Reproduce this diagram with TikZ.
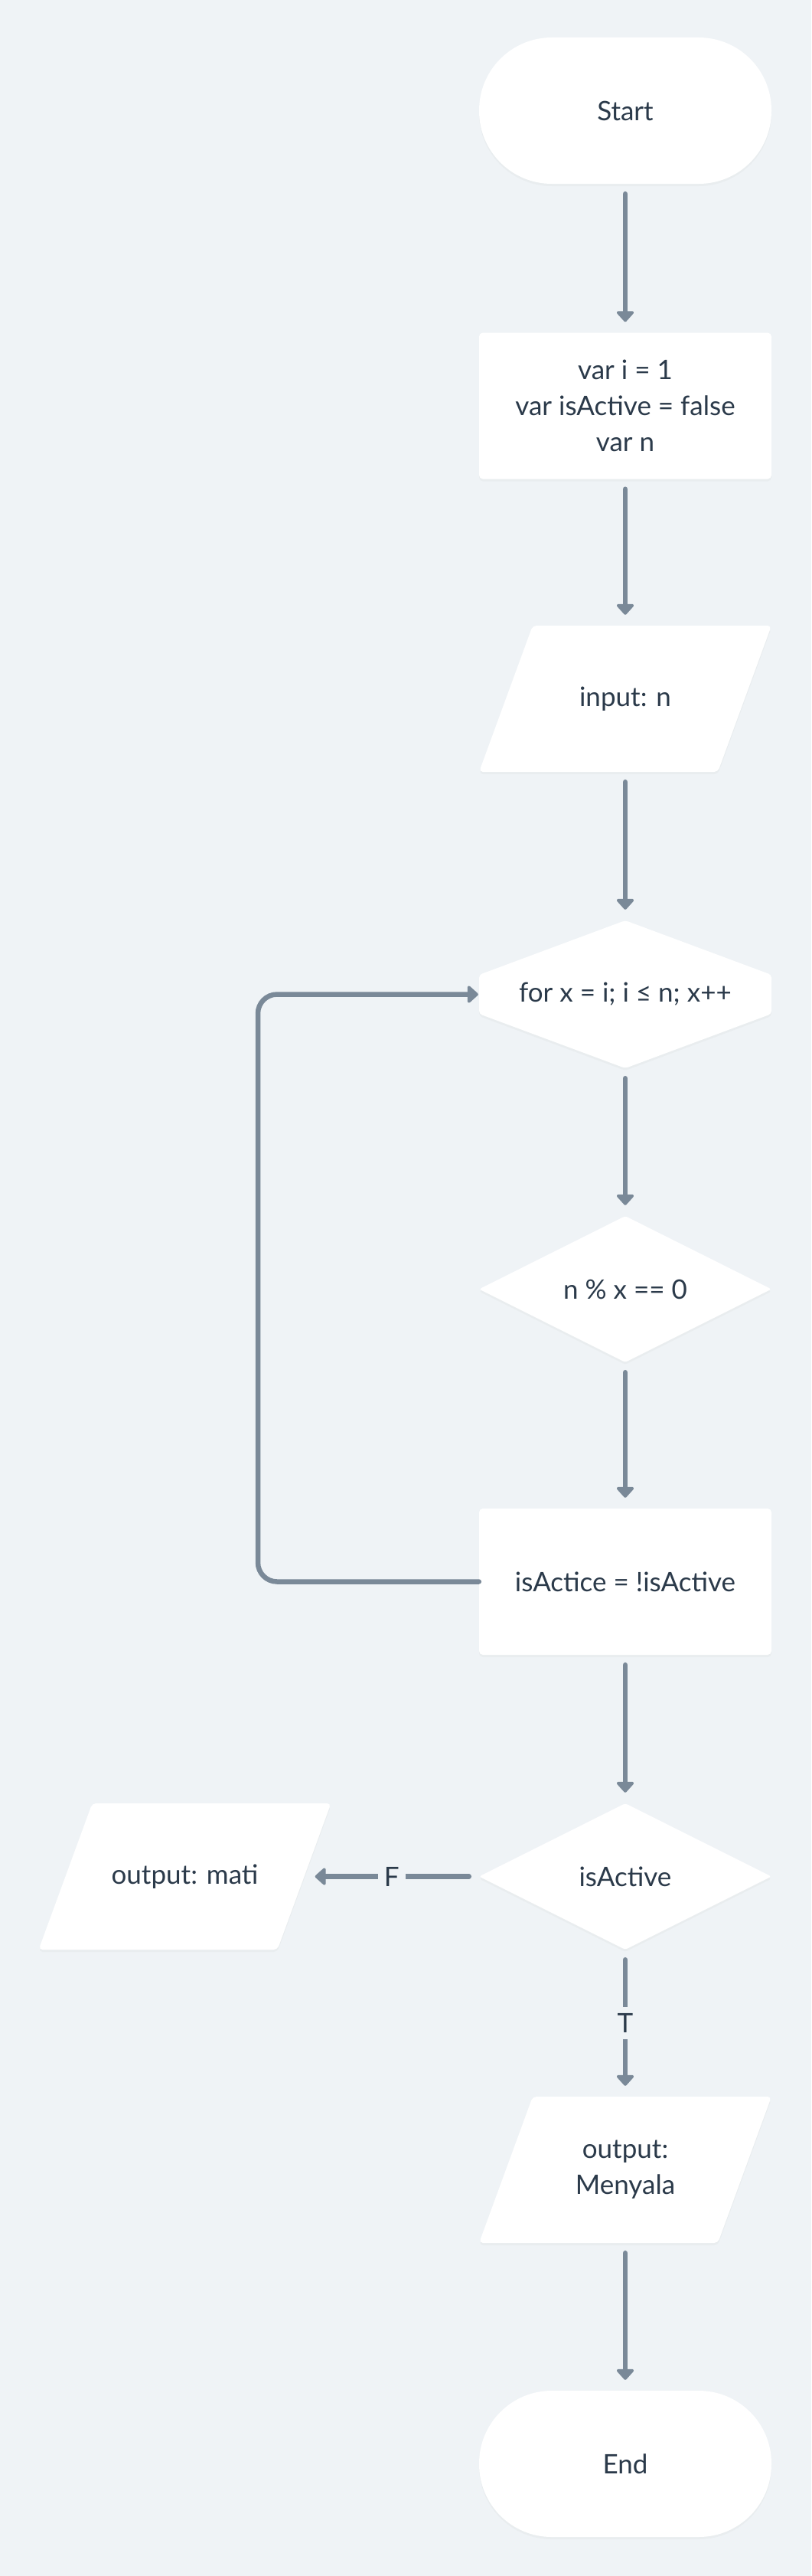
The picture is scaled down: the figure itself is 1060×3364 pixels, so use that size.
\documentclass[tikz,border=0pt]{standalone}
\usepackage{fontspec}
\setmainfont{Lato}
\usetikzlibrary{arrows.meta,shapes.geometric,shadows}
\definecolor{pagebg}{HTML}{EFF3F6}
\definecolor{ink}{HTML}{2B3A4A}
\definecolor{linkgray}{HTML}{7A8998}
\newcommand{\chartfont}{\fontsize{35}{47}\selectfont}
\tikzset{
  softshadow/.style={drop shadow={shadow xshift=0pt,shadow yshift=-3pt,opacity=0.05}},
  label/.style={inner sep=0pt,text=ink,align=center,font=\chartfont},
  card/.style={label,fill=white,minimum width=382pt,minimum height=191pt,softshadow},
  terminal/.style={card,rectangle,rounded corners=95pt},
  process/.style={card,rectangle,rounded corners=5pt},
  decision/.style={card,diamond,aspect=2,rounded corners=3pt},
  holder/.style={label,minimum width=312pt,minimum height=191pt},
  shapefill/.style={fill=white,rounded corners=5pt,softshadow},
  flow/.style={draw=linkgray,line width=6.5pt,line cap=round,
    -{Triangle[width=26pt,length=15pt,round]},shorten <=13pt,shorten >=14pt},
  tag/.style={fill=pagebg,text=ink,font=\chartfont,inner sep=8pt}
}
\begin{document}
\begin{tikzpicture}[x=1pt,y=-1pt]
\fill[pagebg] (0,0) rectangle (1060,3364);
% slanted and six-sided shapes
\fill[shapefill] (696,817) -- (1008,817) -- (938,1008) -- (626,1008) -- cycle;
\fill[shapefill] (120.5,2355) -- (432.5,2355) -- (362.5,2546) -- (50.5,2546) -- cycle;
\fill[shapefill] (696,2738) -- (1008,2738) -- (938,2929) -- (626,2929) -- cycle;
\fill[shapefill,rounded corners=4pt] (817,1202) -- (1008,1273) -- (1008,1324)
  -- (817,1395) -- (626,1324) -- (626,1273) -- cycle;
% main column
\node[terminal] (start) at (817,144.5) {Start};
\node[process] (vars) at (817,530) {var i = 1\\var isActive = false\\var n};
\node[holder] (input) at (817,912.5) {input: n};
\node[label,minimum width=382pt,minimum height=193pt] (forloop) at (817,1298.5)
  {for x = i; i ≤ n; x++};
\node[decision] (modcheck) at (817,1683.5) {n \% x == 0};
\node[process] (toggle) at (817,2065.5) {isActice = !isActive};
\node[decision] (check) at (817,2450.5) {isActive};
\node[holder] (outmati) at (241.5,2450.5) {output: mati};
\node[holder] (outnyala) at (817,2833.5) {output:\\Menyala};
\node[terminal] (endnode) at (817,3217.5) {End};
\coordinate (loopcorner) at (337,1298.5);
% connectors
\draw[flow] (start) -- (vars);
\draw[flow] (vars) -- (input);
\draw[flow] (input) -- (forloop);
\draw[flow] (forloop) -- (modcheck);
\draw[flow] (modcheck) -- (toggle);
\draw[flow,rounded corners=25pt,shorten <=0pt,shorten >=1pt]
  (toggle.west) -| (loopcorner) -- (forloop.west);
\draw[flow] (toggle) -- (check);
\draw[flow] (check) -- node[tag] {F} (outmati);
\draw[flow] (check) -- node[tag] {T} (outnyala);
\draw[flow] (outnyala) -- (endnode);
\end{tikzpicture}
\end{document}
